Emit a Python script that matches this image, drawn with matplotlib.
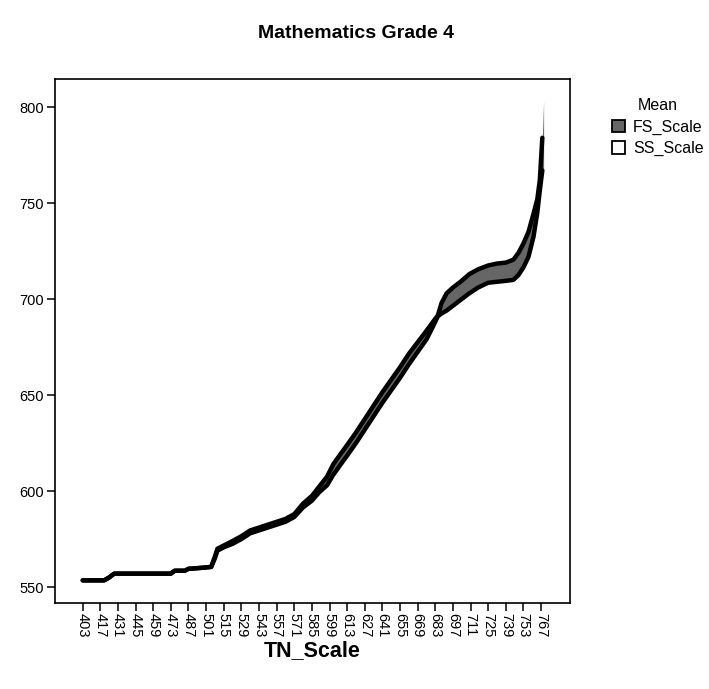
import matplotlib
matplotlib.use("Agg")
import matplotlib.pyplot as plt
from matplotlib.patches import Patch
import numpy as np

plt.rcParams['font.family'] = ['Liberation Sans', 'DejaVu Sans']

# TN_Scale values and mean FS_Scale / SS_Scale
tn_scale = [403, 410, 420, 424, 428, 440, 460, 473, 476, 484, 487, 497, 505, 508,
            510, 516, 522, 529, 536, 543, 550, 557, 564, 571, 578, 585, 591, 597,
            602, 608, 613, 620, 627, 634, 641, 648, 655, 662, 669, 676, 681, 685,
            688, 692, 697, 703, 710, 717, 725, 732, 739, 745, 749, 753, 757, 761,
            764, 766, 768, 769]
fs_mean = [553.5, 553.5, 553.5, 555, 557, 557, 557, 557, 558.5, 558.5, 559.5, 560, 560.5, 566,
           570, 572, 574, 576.5, 579.5, 581, 582.5, 584, 585.5, 588, 593.5, 597.5, 602.5, 607.5,
           614, 619.5, 624, 630.5, 637.5, 644.5, 651.5, 658, 664.5, 671.5, 677.5, 683.5, 688, 691.5,
           698, 703, 706, 709, 713, 715.5, 717.5, 718.5, 719, 720.5, 724, 729, 735, 744.5,
           752, 762, 784, 803]
ss_mean = [553.5, 553.5, 553.5, 555, 557, 557, 557, 557, 558.5, 558.5, 559.5, 560, 560.5, 565,
           569, 571, 572.5, 575, 578, 579.5, 581, 582.5, 584, 586.5, 591.5, 595, 599.5, 603,
           608.5, 614, 618.5, 625, 632, 639, 646, 652.5, 659, 666, 672.5, 679, 685.5, 691,
           692.5, 694, 696.5, 699.5, 703, 706, 708.5, 709, 709.5, 710, 712.5, 716.5, 722, 732.5,
           745, 756.5, 767, 767]
tick_labels = list(range(403, 768, 14))

x = np.array(tn_scale)
fs = np.array(fs_mean)
ss = np.array(ss_mean)

fig = plt.figure(figsize=(7.09, 6.89), dpi=100)
ax = fig.add_axes([0.0776, 0.1248, 0.7264, 0.7605])

ax.fill_between(x, fs, ss, where=fs >= ss, interpolate=True, color='#666666', linewidth=0)
ax.fill_between(x, fs, ss, where=fs < ss, interpolate=True, color='white', linewidth=0)
ax.plot(x[:-1], fs[:-1], color='black', linewidth=3.2, solid_joinstyle='round', solid_capstyle='round')
ax.plot(x[:-1], ss[:-1], color='black', linewidth=3.2, solid_joinstyle='round', solid_capstyle='round')

ax.set_xlim(381, 790)
ax.set_ylim(541.7, 814.6)
ax.set_xticks(tick_labels)
ax.set_xticklabels([str(t) for t in tick_labels], rotation=270, fontsize=10.5)
ax.set_yticks([550, 600, 650, 700, 750, 800])
ax.tick_params(axis='both', direction='out', length=6, width=1.1, labelsize=10.5, colors='black', pad=2)
ax.tick_params(axis='x', pad=1)
for s in ax.spines.values():
    s.set_linewidth(1.2)
ax.set_xlabel('TN_Scale', fontsize=15.5, fontweight='bold', labelpad=2)

fig.text(0.502, 1 - 34 / 689, 'Mathematics Grade 4', ha='center', va='center',
         fontsize=14, fontweight='bold')

handles = [Patch(facecolor='#666666', edgecolor='black', linewidth=1.3, label='FS_Scale'),
           Patch(facecolor='white', edgecolor='black', linewidth=1.3, label='SS_Scale')]
fig.legend(handles=handles, title='Mean', loc='upper left', bbox_to_anchor=(601 / 709, 1 - 87 / 689),
           frameon=False, fontsize=11.5, title_fontsize=11.5, handlelength=0.8, handleheight=0.8,
           handletextpad=0.5, labelspacing=0.4, borderpad=0.2)

fig.savefig('out.png', dpi=100)
